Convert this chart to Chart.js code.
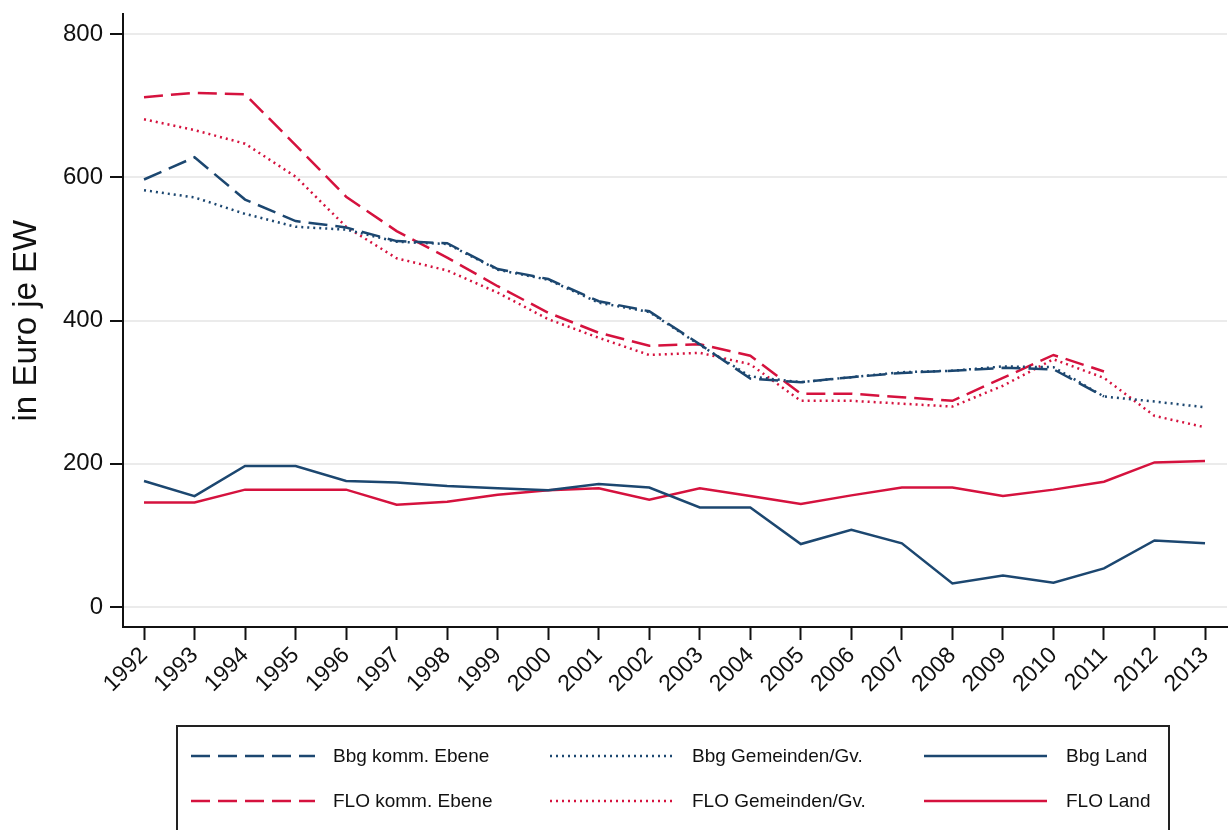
<!DOCTYPE html>
<html>
<head>
<meta charset="utf-8">
<script src="https://cdn.jsdelivr.net/npm/chart.js@4"></script>
<style>
  body { margin: 0; background: #fff; }
  canvas { display: block; }
</style>
</head>
<body>
<canvas id="mychart" width="1231" height="830"></canvas>
<script>
const years = [1992,1993,1994,1995,1996,1997,1998,1999,2000,2001,2002,2003,2004,2005,2006,2007,2008,2009,2010,2011,2012,2013];
const yTicks = [0, 200, 400, 600, 800];

const bbgKomm = [597,628,569,539,530,511,508,472,458,427,413,367,319,314,321,327,330,334,332,294,null,null];
const bbgGem  = [582,572,549,531,527,510,507,471,457,425,412,366,322,314,321,328,330,336,335,294,287,279];
const bbgLand = [176,155,197,197,176,174,169,166,163,172,167,139,139,88,108,89,33,44,34,54,93,89];
const floKomm = [712,718,716,645,573,525,488,448,411,383,365,367,351,298,298,293,288,320,352,329,null,null];
const floGem  = [681,666,647,601,531,487,470,439,402,376,352,355,339,288,288,284,280,309,346,320,267,251];
const floLand = [146,146,164,164,164,143,147,157,163,166,150,166,155,144,156,167,167,155,164,175,202,204];

const labels = ['Bbg komm. Ebene','Bbg Gemeinden/Gv.','Bbg Land','FLO komm. Ebene','FLO Gemeinden/Gv.','FLO Land'];

const blue = '#1c4770';
const red = '#d5123e';
const fontFam = "'Liberation Sans', Arial, Helvetica, sans-serif";

function pts(vals){
  return years.map((y,i)=>({x:y, y:vals[i]}));
}

// legend box drawn on the canvas, 3 columns x 2 rows
const boxLegend = {
  id: 'boxLegend',
  afterDraw(chart){
    const ctx = chart.ctx;
    ctx.save();
    ctx.strokeStyle = '#222';
    ctx.lineWidth = 2;
    ctx.strokeRect(177, 726, 992, 130);
    const lineX = [[191,315],[550,674],[924,1047]];
    const textX = [333, 692, 1066];
    const rowY = [756, 801];
    chart.data.datasets.forEach((ds,i)=>{
      const col = i % 3, row = Math.floor(i/3);
      const y = rowY[row];
      ctx.beginPath();
      ctx.setLineDash(ds.borderDash || []);
      ctx.strokeStyle = ds.borderColor;
      ctx.lineWidth = ds.borderWidth;
      ctx.moveTo(lineX[col][0], y);
      ctx.lineTo(lineX[col][1], y);
      ctx.stroke();
      ctx.setLineDash([]);
      ctx.fillStyle = '#111';
      ctx.font = '19px ' + fontFam;
      ctx.textBaseline = 'middle';
      ctx.fillText(ds.label, textX[col], y + 1);
    });
    ctx.restore();
  }
};

const chart = document.getElementById('mychart').getContext('2d');
let euroChart = new Chart(chart, {
  type: 'line',
  data: {
    datasets: [
      { label: labels[0], data: pts(bbgKomm), borderColor: blue, borderWidth: 2.5, borderDash: [19,8] },
      { label: labels[1], data: pts(bbgGem), borderColor: blue, borderWidth: 2.5, borderDash: [2,4] },
      { label: labels[2], data: pts(bbgLand), borderColor: blue, borderWidth: 2.5 },
      { label: labels[3], data: pts(floKomm), borderColor: red, borderWidth: 2.5, borderDash: [19,8] },
      { label: labels[4], data: pts(floGem), borderColor: red, borderWidth: 2.5, borderDash: [2,4] },
      { label: labels[5], data: pts(floLand), borderColor: red, borderWidth: 2.5 }
    ]
  },
  options: {
    responsive: false,
    animation: false,
    spanGaps: false,
    elements: { point: { radius: 0 }, line: { tension: 0 } },
    layout: { padding: { top: 12, right: 4, bottom: 123, left: 0 } },
    plugins: { legend: { display: false }, tooltip: { enabled: false } },
    scales: {
      x: {
        type: 'linear',
        min: 1991.584,
        max: 2013.435,
        afterBuildTicks: s => { s.ticks = years.map(v => ({ value: v })); },
        afterFit: s => { s.height = 80; },
        grid: { drawOnChartArea: false, drawTicks: true, tickLength: 13, tickColor: '#111', tickWidth: 2 },
        border: { display: true, color: '#111', width: 2 },
        ticks: {
          autoSkip: false,
          maxRotation: 45,
          minRotation: 45,
          padding: 2,
          color: '#111',
          font: { size: 23, family: fontFam },
          callback: v => String(v)
        }
      },
      y: {
        min: -27.8,
        max: 827.8,
        afterBuildTicks: s => { s.ticks = yTicks.map(v => ({ value: v })); },
        afterFit: s => { s.width = 123; },
        grid: { color: '#ebebeb', lineWidth: 2, drawTicks: true, tickLength: 13, tickColor: '#111', tickWidth: 2 },
        border: { display: true, color: '#111', width: 2 },
        ticks: {
          padding: 7,
          color: '#111',
          font: { size: 24, family: fontFam, lineHeight: 0.6 },
          callback: v => String(v)
        },
        title: {
          display: true,
          text: 'in Euro je EW',
          color: '#111',
          font: { size: 33, family: fontFam },
          padding: { top: 7, bottom: 0 }
        }
      }
    }
  },
  plugins: [boxLegend]
});
</script>
</body>
</html>
